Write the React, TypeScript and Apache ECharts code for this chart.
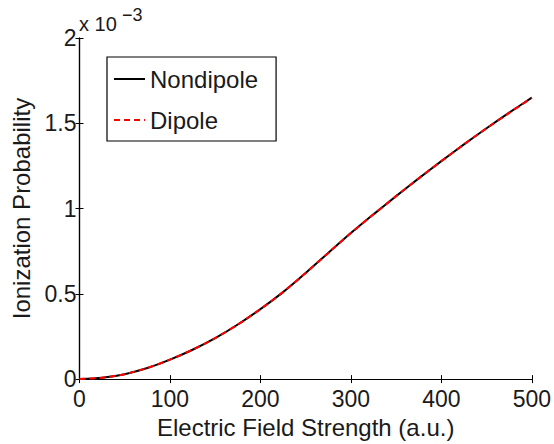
import React, { useEffect, useRef } from "react";
import * as echarts from "echarts";

// Electric field strength (a.u.)
const fieldStrength = [0, 25, 50, 75, 100, 125, 150, 175, 200, 225, 250, 275, 300, 325, 350, 375, 400, 425, 450, 475, 500];
// Ionization probability, in units of 1e-3
const nondipole = [0, 0.008, 0.029, 0.065, 0.114, 0.172, 0.24, 0.32, 0.41, 0.51, 0.622, 0.74, 0.856, 0.966, 1.073, 1.177, 1.278, 1.376, 1.471, 1.562, 1.65];
const dipole = [0, 0.008, 0.029, 0.065, 0.114, 0.172, 0.24, 0.32, 0.41, 0.51, 0.622, 0.74, 0.856, 0.966, 1.073, 1.177, 1.278, 1.376, 1.471, 1.561, 1.649];
const seriesNames = ["Nondipole", "Dipole"];
const xTitle = "Electric Field Strength (a.u.)";
const yTitle = "Ionization Probability";

const FONT = "'Liberation Sans', Arial, Helvetica, sans-serif";

export default function App() {
  const ref = useRef<HTMLDivElement>(null);
  useEffect(() => {
    if (!ref.current) return;
    const chart = echarts.init(ref.current, null, { renderer: "svg" });
    const axisLine = { show: true, lineStyle: { color: "#000", width: 1.2 } };
    const tick = { show: true, inside: true, length: 4, lineStyle: { color: "#000", width: 1 } };
    chart.setOption({
      animation: false,
      backgroundColor: "#fff",
      textStyle: { fontFamily: FONT },
      grid: { left: 79.5, right: 22, top: 38, bottom: 61, containLabel: false },
      legend: {
        left: 107,
        top: 57,
        orient: "vertical",
        padding: [10, 18, 9, 6],
        itemGap: 17,
        itemWidth: 31,
        itemHeight: 14,
        borderColor: "#000",
        borderWidth: 1.2,
        borderRadius: 0,
        backgroundColor: "#fff",
        itemStyle: { opacity: 0 },
        textStyle: { fontSize: 24, color: "#1a1a1a", fontFamily: FONT, lineHeight: 22 },
        data: seriesNames,
      },
      graphic: [
        { type: "text", left: 79, top: 14, style: { text: "x 10", font: `20px ${FONT}`, fill: "#1a1a1a" } },
        { type: "text", left: 122, top: 6, style: { text: "\u22123", font: `18px ${FONT}`, fill: "#1a1a1a" } },
      ],
      xAxis: [
        {
          type: "value",
          min: 0,
          max: 500,
          interval: 100,
          name: xTitle,
          nameLocation: "middle",
          nameGap: 27,
          nameTextStyle: { fontSize: 24, color: "#1a1a1a", fontFamily: FONT },
          axisLine,
          axisTick: tick,
          splitLine: { show: false },
          axisLabel: { fontSize: 23, color: "#1a1a1a", margin: 8, fontFamily: FONT },
        },
        {
          type: "value",
          position: "top",
          min: 0,
          max: 500,
          interval: 100,
          axisLine,
          axisTick: tick,
          splitLine: { show: false },
          axisLabel: { show: false },
        },
      ],
      yAxis: [
        {
          type: "value",
          min: 0,
          max: 2,
          interval: 0.5,
          name: yTitle,
          nameLocation: "middle",
          nameGap: 45,
          nameTextStyle: { fontSize: 24, color: "#1a1a1a", fontFamily: FONT },
          axisLine,
          axisTick: tick,
          splitLine: { show: false },
          axisLabel: { fontSize: 23, color: "#1a1a1a", margin: 3, fontFamily: FONT },
        },
        {
          type: "value",
          position: "right",
          min: 0,
          max: 2,
          interval: 0.5,
          axisLine,
          axisTick: tick,
          splitLine: { show: false },
          axisLabel: { show: false },
        },
      ],
      series: [
        {
          name: seriesNames[0],
          type: "line",
          data: fieldStrength.map((x, i) => [x, nondipole[i]]),
          smooth: 0.25,
          showSymbol: false,
          symbol: "none",
          lineStyle: { color: "#000", width: 2 },
          itemStyle: { color: "#000" },
        },
        {
          name: seriesNames[1],
          type: "line",
          data: fieldStrength.map((x, i) => [x, dipole[i]]),
          smooth: 0.25,
          showSymbol: false,
          symbol: "none",
          lineStyle: { color: "#ff0000", width: 2, type: [6, 4] },
          itemStyle: { color: "#ff0000" },
        },
      ],
    });
    return () => chart.dispose();
  }, []);
  return <div ref={ref} style={{ width: 554, height: 444, position: "absolute", left: 0, top: 0 }} />;
}
